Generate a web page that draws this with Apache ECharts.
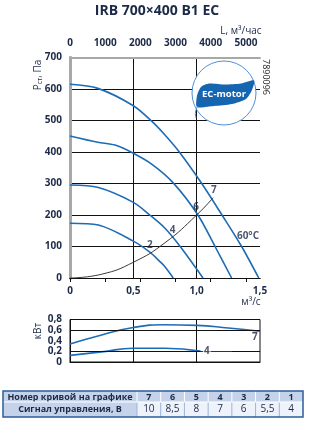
<!DOCTYPE html>
<html>
<head>
<meta charset="utf-8">
<script src="https://cdn.jsdelivr.net/npm/echarts@6/dist/echarts.min.js"></script>
<style>
html, body { margin: 0; padding: 0; background: #fff; }
#chart { width: 314px; height: 425px; }
</style>
</head>
<body>
<div id="chart"></div>
<script>
// fan curves, [Q m3/s, Pa]
var curve7 = [[0,615],[0.22,602],[0.5,547],[0.645,498],[0.75,454],[0.863,400],[1.04,300],[1.2,200],[1.355,100],[1.49,0]];
var curve6 = [[0,451],[0.22,431],[0.355,422],[0.5,396],[0.65,360],[0.815,302],[1.01,200],[1.145,100],[1.276,0]];
var curve4 = [[0,295],[0.224,287],[0.5,240],[0.63,200],[0.75,158],[0.87,100],[1.05,0]];
var curve2 = [[0,174],[0.224,168],[0.5,117],[0.63,82],[0.71,52],[0.75,36],[0.815,0]];
var systemCurve = [[0,0],[0.25,12],[0.5,50],[0.75,112],[1.0,200],[1.13,255]];
var curveLabels = [[0.63,105,'2'],[0.81,152,'4'],[0.995,225,'6'],[1.135,279,'7'],[1.405,133,'60°C']];

// power, [Q m3/s, kW]
var power7 = [[0,0.34],[0.25,0.51],[0.5,0.65],[0.75,0.70],[1.0,0.69],[1.25,0.64],[1.5,0.58]];
var power4 = [[0,0.125],[0.25,0.19],[0.5,0.26],[0.75,0.26],[1.03,0.205]];
var powerLabels = [[1.08,0.205,'4'],[1.46,0.47,'7']];
var powerGridLines = [0.2, 0.6];

var curveNumbers = ['7','6','5','4','3','2','1'];
var signalValues = ['10','8,5','8','7','6','5,5','4'];

var FONT = 'Open Sans';
var INK = '#1c2a48';
var BLUE = '#1e6cb6';
var FRAME = '#a8a8a8';

function comma(v, d) {
    if (v === 0) return '0';
    return v.toFixed(d).replace('.', ',');
}

var chart = echarts.init(document.getElementById('chart'));

function fanLine(data) {
    return {
        type: 'line', xAxisIndex: 0, yAxisIndex: 0, data: data,
        smooth: 0.3, showSymbol: false, silent: true,
        lineStyle: {color: BLUE, width: 1.6}
    };
}

function labelSeries(rows, xi, yi, extra) {
    return {
        type: 'scatter', xAxisIndex: xi, yAxisIndex: yi, symbolSize: 0, silent: true, z: 5,
        data: rows.map(function (r) {
            return {value: [r[0], r[1]], label: {formatter: r[2]}};
        }),
        label: Object.assign({show: true, position: 'inside', fontFamily: FONT, fontSize: 10, fontWeight: 'bold', color: INK}, extra || {})
    };
}

// table built from the arrays
var tableEls = [];
var tX = 3, tY = 391, firstW = 134, colW = (303 - 137) / 7, h1 = 11, h2 = 15;
tableEls.push({type: 'rect', shape: {x: tX, y: tY, width: 300, height: h1 + h2}, style: {fill: '#c4d3ea'}});
tableEls.push({type: 'text', x: tX + firstW / 2, y: tY + h1 / 2 + 0.5, style: {text: 'Номер кривой на графике', fontFamily: FONT, fontSize: 9, fontWeight: 'bold', fill: INK, align: 'center', verticalAlign: 'middle'}});
tableEls.push({type: 'text', x: tX + firstW / 2, y: tY + h1 + h2 / 2, style: {text: 'Сигнал управления, В', fontFamily: FONT, fontSize: 9, fontWeight: 'bold', fill: INK, align: 'center', verticalAlign: 'middle'}});
curveNumbers.forEach(function (n, i) {
    var cx = 137 + i * colW;
    tableEls.push({type: 'rect', shape: {x: cx, y: tY + h1, width: colW, height: h2}, style: {fill: '#eef2fa'}});
    tableEls.push({type: 'line', shape: {x1: cx, y1: tY, x2: cx, y2: tY + h1}, style: {stroke: '#fff', lineWidth: 1}});
    tableEls.push({type: 'line', shape: {x1: cx, y1: tY + h1, x2: cx, y2: tY + h1 + h2}, style: {stroke: '#9db6dc', lineWidth: 1}});
    tableEls.push({type: 'text', x: cx + colW / 2, y: tY + h1 / 2 + 0.5, style: {text: n, fontFamily: FONT, fontSize: 9, fontWeight: 'bold', fill: INK, align: 'center', verticalAlign: 'middle'}});
    tableEls.push({type: 'text', x: cx + colW / 2, y: tY + h1 + h2 / 2, style: {text: signalValues[i], fontFamily: FONT, fontSize: 10, fill: INK, align: 'center', verticalAlign: 'middle'}});
});
tableEls.push({type: 'line', shape: {x1: tX, y1: tY + h1, x2: tX + 300, y2: tY + h1}, style: {stroke: '#fff', lineWidth: 1}});
tableEls.push({type: 'rect', shape: {x: tX, y: tY, width: 300, height: h1 + h2}, style: {fill: 'none', stroke: '#2d5e9c', lineWidth: 1.5}});

var option = {
    backgroundColor: '#fff',
    animation: false,
    textStyle: {fontFamily: FONT},
    grid: [
        {left: 70, top: 57.5, width: 190, height: 220.5},
        {left: 70, top: 319.5, width: 190, height: 42.5, show: true, borderColor: '#111', borderWidth: 1}
    ],
    xAxis: [
        {
            gridIndex: 0, type: 'value', min: 0, max: 1.5, interval: 0.5,
            axisLine: {lineStyle: {color: '#111', width: 1}},
            axisTick: {show: false},
            axisLabel: {margin: 8, fontSize: 10, fontWeight: 'bold', color: INK, formatter: function (v) { return comma(v, 1); }},
            splitLine: {show: true, showMinLine: false, showMaxLine: false, lineStyle: {color: '#111', width: 1}}
        },
        {
            gridIndex: 0, type: 'value', position: 'top', offset: 5, min: 0, max: 5400, interval: 1000,
            axisLine: {lineStyle: {color: '#111', width: 1}},
            axisTick: {inside: true, length: 4, lineStyle: {color: '#111'}},
            axisLabel: {margin: 4, fontSize: 10, fontWeight: 'bold', color: INK, showMaxLabel: false, formatter: function (v) { return String(v); }},
            splitLine: {show: false}
        },
        {
            gridIndex: 0, type: 'value', position: 'top', min: 0, max: 1.5,
            axisLine: {lineStyle: {color: FRAME, width: 2}},
            axisTick: {show: false}, axisLabel: {show: false}, splitLine: {show: false}
        },
        {
            gridIndex: 1, type: 'value', min: 0, max: 1.5, interval: 0.5,
            axisLine: {lineStyle: {color: '#111', width: 1}},
            axisTick: {show: false}, axisLabel: {show: false},
            splitLine: {show: true, showMinLine: false, showMaxLine: false, lineStyle: {color: '#111', width: 1}}
        }
    ],
    yAxis: [
        {
            gridIndex: 0, type: 'value', min: 0, max: 700, interval: 100,
            axisLine: {show: true, lineStyle: {color: FRAME, width: 3}},
            axisTick: {show: false},
            axisLabel: {margin: 8, fontSize: 10, fontWeight: 'bold', color: INK},
            splitLine: {show: true, showMinLine: false, showMaxLine: false, lineStyle: {color: '#111', width: 1}}
        },
        {
            gridIndex: 0, type: 'value', position: 'right', min: 0, max: 700,
            axisLine: {show: true, lineStyle: {color: FRAME, width: 3}},
            axisTick: {show: false}, axisLabel: {show: false}, splitLine: {show: false}
        },
        {
            gridIndex: 1, type: 'value', min: 0, max: 0.8, interval: 0.2,
            axisLine: {show: true, lineStyle: {color: '#111', width: 1}},
            axisTick: {show: false},
            axisLabel: {margin: 8, fontSize: 10, fontWeight: 'bold', color: INK, formatter: function (v) { return comma(v, 1); }},
            splitLine: {show: false}
        }
    ],
    series: [
        fanLine(curve7),
        fanLine(curve6),
        fanLine(curve4),
        fanLine(curve2),
        {
            type: 'line', xAxisIndex: 0, yAxisIndex: 0, data: systemCurve,
            smooth: true, showSymbol: false, silent: true,
            lineStyle: {color: '#3a3a3a', width: 1}
        },
        labelSeries(curveLabels, 0, 0),
        {
            type: 'line', xAxisIndex: 3, yAxisIndex: 2, data: power7,
            smooth: true, showSymbol: false, silent: true,
            lineStyle: {color: BLUE, width: 1.6},
            markLine: {
                silent: true, symbol: 'none', label: {show: false},
                lineStyle: {color: '#111', width: 1, type: 'solid'},
                data: powerGridLines.map(function (v) { return {yAxis: v}; })
            }
        },
        {
            type: 'line', xAxisIndex: 3, yAxisIndex: 2, data: power4,
            smooth: true, showSymbol: false, silent: true,
            lineStyle: {color: BLUE, width: 1.6},
            markLine: {
                silent: true, symbol: 'none', label: {show: false},
                lineStyle: {color: '#333', width: 1, type: 'solid'},
                data: [[{coord: [1.03, 0.205]}, {coord: [1.28, 0.205]}]]
            }
        },
        labelSeries(powerLabels, 3, 2, {backgroundColor: '#fff', padding: [0, 1]})
    ],
    graphic: [
        {type: 'text', left: 'center', top: 4, style: {text: 'IRB 700×400 B1 EC', fontFamily: FONT, fontSize: 14, fontWeight: 'bold', fill: INK}},
        {type: 'text', x: 241, y: 31, style: {text: 'L, м³/час', fontFamily: FONT, fontSize: 10, fill: INK, align: 'center', verticalAlign: 'middle'}},
        {type: 'text', x: 38, y: 75, rotation: Math.PI / 2, style: {
            text: 'P{s|ст}, Па', fontFamily: FONT, fontSize: 10, fill: INK, align: 'center', verticalAlign: 'middle',
            rich: {s: {fontFamily: FONT, fontSize: 7, fill: INK, padding: [4, 0, 0, 0]}}
        }},
        {type: 'text', x: 251, y: 302, style: {text: 'м³/с', fontFamily: FONT, fontSize: 10, fill: INK, align: 'center', verticalAlign: 'middle'}},
        {type: 'text', x: 38, y: 331, rotation: Math.PI / 2, style: {text: 'кВт', fontFamily: FONT, fontSize: 10, fill: INK, align: 'center', verticalAlign: 'middle'}},
        {type: 'text', x: 266, y: 77, rotation: -Math.PI / 2, style: {text: '7890096', fontFamily: FONT, fontSize: 9, fill: '#222', align: 'center', verticalAlign: 'middle'}},
        // EC-motor badge
        {type: 'circle', shape: {cx: 224, cy: 93, r: 32}, style: {fill: '#fff', stroke: '#4f8fd4', lineWidth: 1}, z: 10},
        {type: 'polygon', z: 11, shape: {
            smooth: 0.25,
            points: [[197,107],[197,96],[201,87],[209,83.5],[225,84.5],[241,83.5],[254,80.5],[252,90],[246,99],[232,104],[214,106]]
        }, style: {fill: '#1565b0'}},
        {type: 'bezierCurve', z: 11, shape: {x1: 198, y1: 106, cpx1: 195, cpy1: 110, cpx2: 195, cpy2: 114, x2: 196, y2: 118},
            style: {fill: 'none', stroke: '#4f8fd4', lineWidth: 1}},
        {type: 'text', x: 224, y: 94.5, z: 12, style: {text: 'EC-motor', fontFamily: FONT, fontSize: 9.5, fontWeight: 'bold', fill: '#fff', align: 'center', verticalAlign: 'middle'}},
        {type: 'group', children: tableEls}
    ]
};

chart.setOption(option);
</script>
</body>
</html>
